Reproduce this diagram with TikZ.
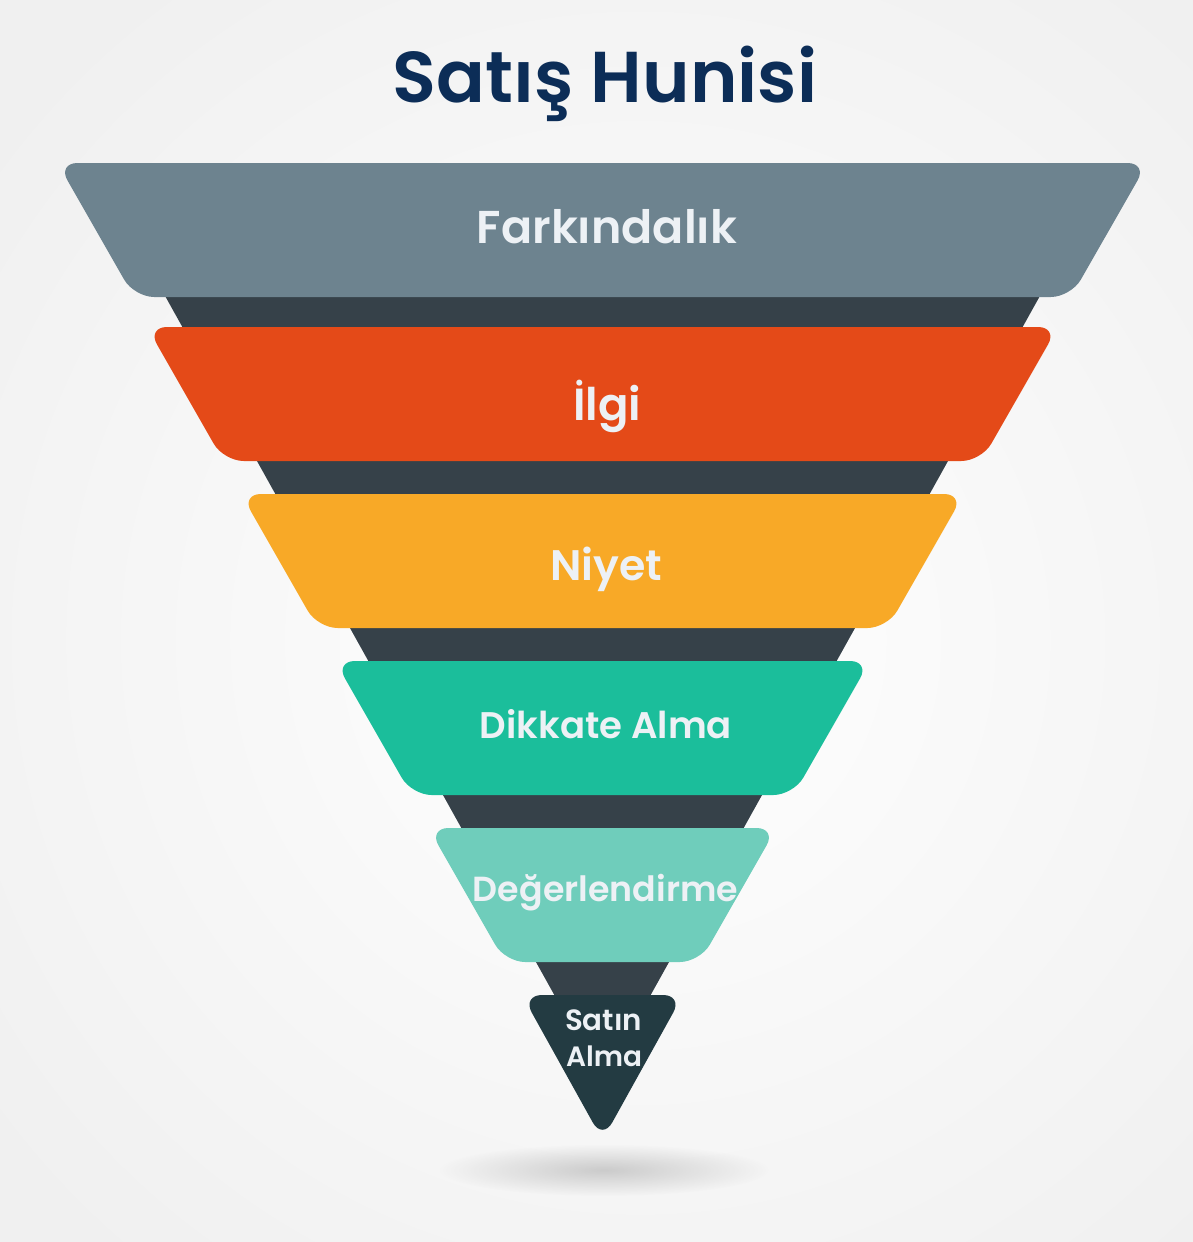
\documentclass[tikz,border=0pt]{standalone}
\usepackage{fontspec}
\setmainfont{Poppins}
\newfontfamily\popsb{Poppins SemiBold}
\usepackage{graphicx}
\usetikzlibrary{fadings}
\definecolor{bgout}{HTML}{F0F0F0}
\definecolor{darkc}{HTML}{364149}
\definecolor{bandA}{HTML}{6D838F}
\definecolor{bandB}{HTML}{E44A18}
\definecolor{bandC}{HTML}{F8A927}
\definecolor{bandD}{HTML}{1BBE9B}
\definecolor{bandE}{HTML}{6FCDBB}
\definecolor{bandF}{HTML}{233B42}
\definecolor{titlec}{HTML}{0C2D57}
\definecolor{txtc}{HTML}{EDF1F5}
\tikzfading[name=softfade, inner color=transparent!0, outer color=transparent!100]
\begin{document}
\begin{tikzpicture}[x=1pt,y=-1pt,
  lbl/.style={text=txtc, anchor=base, inner sep=0pt, font=\popsb},
  bandfill/.style={fill=#1, rounded corners=20pt}]
\useasboundingbox (0,0) rectangle (1193,1242);
% background
\fill[bgout] (0,0) rectangle (1193,1242);
\begin{scope}
\clip (0,0) rectangle (1193,1242);
\shade[inner color=white, outer color=bgout] (640,640) circle (820);
\end{scope}
% shadow
\fill[black!45, opacity=0.4, path fading=softfade] (604,1170) ellipse (165 and 26);
% dark funnel behind
\fill[darkc] (139.5,250) -- (1065.5,250) -- (602.5,1081.5) -- cycle;
% bands
\fill[bandfill=bandA] (57.5,163) -- (1147.5,163) -- (1070.9,297) -- (134.1,297) -- cycle;
\fill[bandfill=bandB] (147,327) -- (1058,327) -- (981.4,461) -- (223.6,461) -- cycle;
\fill[bandfill=bandC] (241,494) -- (964,494) -- (887.4,628) -- (317.6,628) -- cycle;
\fill[bandfill=bandD] (335,661) -- (870,661) -- (793.4,795) -- (411.6,795) -- cycle;
\fill[bandfill=bandE] (428.5,828) -- (776.5,828) -- (699.9,962) -- (505.1,962) -- cycle;
\fill[bandfill=bandF] (522,995) -- (683,995) -- (602.5,1140) -- cycle;
% labels
\node[lbl] (l1) at (607,243) {\resizebox{260pt}{!}{Farkındalık}};
\node[lbl] (l2) at (607,420) {\resizebox{68pt}{!}{İlgi}};
\node[lbl] (l3) at (606,580) {\resizebox{112pt}{!}{Niyet}};
\node[lbl] (l4) at (606,738) {\resizebox{252pt}{!}{Dikkate Alma}};
\node[lbl] (l5) at (605.5,901) {\resizebox{265pt}{!}{Değerlendirme}};
\node[lbl] (l6a) at (603.5,1030) {\resizebox{77pt}{!}{Satın}};
\node[lbl] (l6b) at (604,1066) {\resizebox{76pt}{!}{Alma}};
% title
\node[anchor=base, inner sep=0pt, text=titlec, font=\popsb] (title) at (605,102) {\resizebox{424pt}{!}{Satış Hunisi}};
\end{tikzpicture}
\end{document}
